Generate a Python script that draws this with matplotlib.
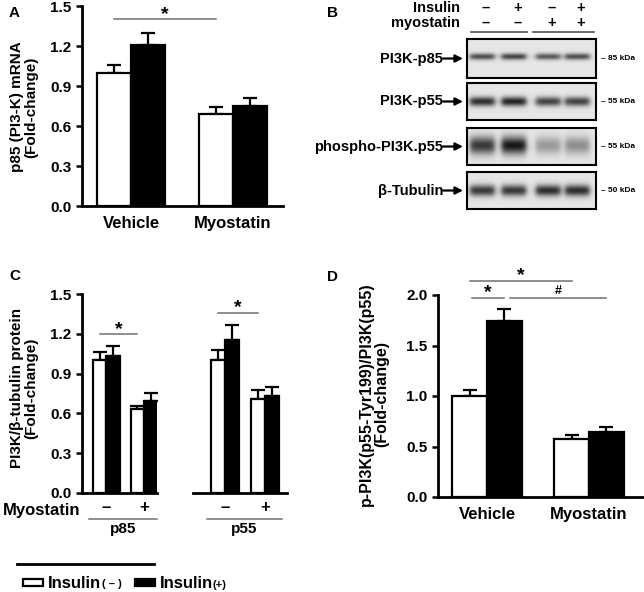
import numpy as np
import matplotlib
matplotlib.use("Agg")
import matplotlib.pyplot as plt
from matplotlib.patches import Rectangle

plt.rcParams['font.family'] = ['Liberation Sans', 'DejaVu Sans']
plt.rcParams['font.weight'] = 'bold'

# ---------------- data ----------------
groups = ["Vehicle", "Myostatin"]

# Panel A: p85 mRNA
a_ins_neg = [1.00, 0.69]
a_ins_neg_err = [0.06, 0.05]
a_ins_pos = [1.21, 0.75]
a_ins_pos_err = [0.09, 0.06]

# Panel C: PI3K / beta-tubulin protein
c_p85_neg = [1.00, 0.63]
c_p85_neg_err = [0.06, 0.025]
c_p85_pos = [1.03, 0.69]
c_p85_pos_err = [0.075, 0.065]
c_p55_neg = [1.00, 0.71]
c_p55_neg_err = [0.08, 0.065]
c_p55_pos = [1.15, 0.73]
c_p55_pos_err = [0.12, 0.07]

# Panel D: p-PI3K(p55-Tyr199)/PI3K(p55)
d_ins_neg = [1.00, 0.57]
d_ins_neg_err = [0.06, 0.04]
d_ins_pos = [1.74, 0.64]
d_ins_pos_err = [0.12, 0.05]

# Panel B: western blot, relative band darkness per lane
blot_rows = ["PI3K-p85", "PI3K-p55", "phospho-PI3K.p55", "β-Tubulin"]
blot_kda = ["85 kDa", "55 kDa", "55 kDa", "50 kDa"]
blot_p85 = [0.70, 0.75, 0.65, 0.70]
blot_p55 = [0.85, 0.90, 0.75, 0.75]
blot_phospho = [0.80, 0.95, 0.35, 0.40]
blot_tubulin = [0.80, 0.80, 0.85, 0.85]
insulin_signs = ["–", "+", "–", "+"]
myostatin_signs = ["–", "–", "+", "+"]

W, H = 644, 592
fig = plt.figure(figsize=(W / 100, H / 100), dpi=100)


def px_axes(x0, y0, x1, y1):
    return fig.add_axes([x0 / W, 1 - y1 / H, (x1 - x0) / W, (y1 - y0) / H])


def style_axes(ax, yticks, show_left=True):
    for s in ['top', 'right']:
        ax.spines[s].set_visible(False)
    ax.spines['bottom'].set_linewidth(2)
    ax.spines['left'].set_linewidth(2)
    ax.spines['left'].set_visible(show_left)
    ax.tick_params(axis='x', length=0, labelsize=12, pad=7)
    ax.tick_params(axis='y', length=4, width=1.8, labelsize=11, direction='out')
    if show_left:
        ax.set_yticks(yticks)
        ax.set_yticklabels(["%.1f" % t for t in yticks])
    else:
        ax.set_yticks([])


def grouped_bars(ax, neg, neg_err, pos, pos_err, w):
    x = np.arange(len(neg))
    ax.bar(x - w / 2, neg, w, color='white', edgecolor='black', lw=1.6, zorder=3)
    ax.bar(x + w / 2, pos, w, color='black', edgecolor='black', lw=1.6, zorder=3)
    for xs, vals, errs in [(x - w / 2, neg, neg_err), (x + w / 2, pos, pos_err)]:
        ax.errorbar(xs, vals, yerr=[np.zeros(len(vals)), errs], fmt='none',
                    ecolor='black', elinewidth=1.6, capsize=5, capthick=1.6, zorder=2)
    return x


def sig_line(ax, x0, x1, y, label, size=14, dy=0.0):
    ax.plot([x0, x1], [y, y], color='#707070', lw=1.1, clip_on=False)
    ax.text((x0 + x1) / 2, y + dy, label, ha='center', va='bottom',
            fontsize=size, clip_on=False)


# ---------------- Panel A ----------------
axA = px_axes(82, 6, 283, 206)
w = 0.333
x = grouped_bars(axA, a_ins_neg, a_ins_neg_err, a_ins_pos, a_ins_pos_err, w)
axA.set_xlim(0.52 - 1, 2.49 - 1)
axA.set_ylim(0, 1.5)
style_axes(axA, [0.0, 0.3, 0.6, 0.9, 1.2, 1.5])
axA.set_xticks(x)
axA.set_xticklabels(groups)
sig_line(axA, x[0] - w / 2, x[1] - w / 2, 1.40, "*", dy=-0.03)

# ---------------- Panel C ----------------
axC1 = px_axes(82, 294, 157, 493)
wc = 0.35
xc = grouped_bars(axC1, c_p85_neg, c_p85_neg_err, c_p85_pos, c_p85_pos_err, wc)
axC1.set_xlim(-0.653, 1.347)
axC1.set_ylim(0, 1.5)
style_axes(axC1, [0.0, 0.3, 0.6, 0.9, 1.2, 1.5])
axC1.set_xticks(xc)
axC1.set_xticklabels(["–", "+"])
axC1.tick_params(axis='x', pad=5)
sig_line(axC1, xc[0] - wc / 2, xc[1] - wc / 2, 1.20, "*", dy=-0.03)

axC2 = px_axes(193, 294, 287, 493)
wc2 = 0.34
xc2 = grouped_bars(axC2, c_p55_neg, c_p55_neg_err, c_p55_pos, c_p55_pos_err, wc2)
axC2.set_xlim(-0.8, 1.55)
axC2.set_ylim(0, 1.5)
style_axes(axC2, [], show_left=False)
axC2.set_xticks(xc2)
axC2.set_xticklabels(["–", "+"])
axC2.tick_params(axis='x', pad=5)
sig_line(axC2, xc2[0] - wc2 / 2, xc2[1] - wc2 / 2, 1.36, "*", dy=-0.03)

# ---------------- Panel D ----------------
axD = px_axes(438, 295, 643, 497)
wd = 0.34
xd = grouped_bars(axD, d_ins_neg, d_ins_neg_err, d_ins_pos, d_ins_pos_err, wd)
axD.set_xlim(-0.48, 1.53)
axD.set_ylim(0, 2.0)
style_axes(axD, [0.0, 0.5, 1.0, 1.5, 2.0])
axD.set_xticks(xd)
axD.set_xticklabels(groups)
sig_line(axD, xd[0] - wd / 2, xd[1] - wd / 2, 2.14, "*", dy=-0.035)
sig_line(axD, xd[0] - wd / 2 + 0.02, xd[0] + wd / 2, 1.97, "*", dy=-0.035)
sig_line(axD, xd[0] + wd / 2 + 0.06, xd[1] + wd / 2, 1.97, "#", size=9, dy=0.01)

# ---------------- Panel B (blot) ----------------
blot_boxes = [(39, 78), (83, 120), (128, 165), (172, 209)]
blot_vals = [blot_p85, blot_p55, blot_phospho, blot_tubulin]
band_sigma = [0.06, 0.09, 0.17, 0.11]
band_y = [0.45, 0.50, 0.47, 0.50]
lane_x = [0.117, 0.36, 0.625, 0.85]
bx0, bx1 = 467, 596
for (y0, y1), vals, sig, by in zip(blot_boxes, blot_vals, band_sigma, band_y):
    ax = px_axes(bx0, y0, bx1, y1)
    nx, ny = 260, 80
    gx, gy = np.meshgrid(np.linspace(0, 1, nx), np.linspace(0, 1, ny))
    img = np.full((ny, nx), 0.9)
    for cx, v in zip(lane_x, vals):
        hprof = 1 / (1 + np.exp((np.abs(gx - cx) - 0.095) / 0.012))
        vprof = np.exp(-0.5 * ((gy - by) / sig) ** 2)
        img -= v * 0.85 * hprof * vprof
    ax.imshow(img, cmap='gray', vmin=0, vmax=1, extent=(0, 1, 1, 0), aspect='auto')
    ax.set_xticks([])
    ax.set_yticks([])
    for s in ax.spines.values():
        s.set_linewidth(1.5)

ov = fig.add_axes([0, 0, 1, 1])
ov.set_xlim(0, W)
ov.set_ylim(H, 0)
ov.axis('off')

label_y = [(y0 + y1) / 2 for y0, y1 in blot_boxes]
for name, kda, yy in zip(blot_rows, blot_kda, label_y):
    ov.annotate("", xy=(463, yy), xytext=(443, yy),
                arrowprops=dict(arrowstyle='-|>', lw=1.6, color='black',
                                mutation_scale=11, shrinkA=0, shrinkB=0))
    ov.text(443, yy, name, ha='right', va='center', fontsize=10.5)
    ov.text(601, yy, "– " + kda, ha='left', va='center', fontsize=6)

lane_px = [bx0 + f * (bx1 - bx0) for f in lane_x]
ov.text(460, 8, "Insulin", ha='right', va='center', fontsize=10.5)
ov.text(460, 23, "myostatin", ha='right', va='center', fontsize=10.5)
for lx, si, sm in zip(lane_px, insulin_signs, myostatin_signs):
    ov.text(lx + 4, 8, si, ha='center', va='center', fontsize=10.5)
    ov.text(lx + 4, 23, sm, ha='center', va='center', fontsize=10.5)
ov.plot([471, 527], [32, 32], color='#505050', lw=1.2)
ov.plot([533, 594], [32, 32], color='#505050', lw=1.2)

# ---------------- labels ----------------
ov.text(9, 13, "A", fontsize=11, ha='left', va='center')
ov.text(327, 13, "B", fontsize=11, ha='left', va='center')
ov.text(9, 276, "C", fontsize=11, ha='left', va='center')
ov.text(327, 277, "D", fontsize=11, ha='left', va='center')

ov.text(24, 107, "p85 (PI3-K) mRNA\n(Fold-change)", rotation=90, ha='center',
        va='center', fontsize=11, linespacing=1.05, multialignment='center')
ov.text(24, 388, "PI3K/β-tubulin protein\n(Fold-change)", rotation=90, ha='center',
        va='center', fontsize=11, linespacing=1.05, multialignment='center')
ov.text(374, 394, "p-PI3K(p55-Tyr199)/PI3K(p55)\n(Fold-change)", rotation=90,
        ha='center', va='center', fontsize=11.5, linespacing=1.0,
        multialignment='center')

# Panel C bottom annotations
ov.text(3, 510, "Myostatin", ha='left', va='center', fontsize=12)
ov.plot([89, 157], [519, 519], color='#707070', lw=1.1)
ov.plot([207, 282], [519, 519], color='#707070', lw=1.1)
ov.text(123, 529, "p85", ha='center', va='center', fontsize=11)
ov.text(244, 529, "p55", ha='center', va='center', fontsize=11)

# legend
ov.plot([17, 154], [564, 564], color='black', lw=2)
ov.add_patch(Rectangle((23, 579), 20, 7, facecolor='white', edgecolor='black', lw=1.6))
ov.text(48, 583, "Insulin", ha='left', va='center', fontsize=12)
ov.text(102, 584, "( – )", ha='left', va='center', fontsize=8)
ov.add_patch(Rectangle((135, 579), 20, 7, facecolor='black', edgecolor='black', lw=1.6))
ov.text(160, 583, "Insulin", ha='left', va='center', fontsize=12)
ov.text(213, 585, "(+)", ha='left', va='center', fontsize=8)

fig.savefig("out.png", dpi=100)
